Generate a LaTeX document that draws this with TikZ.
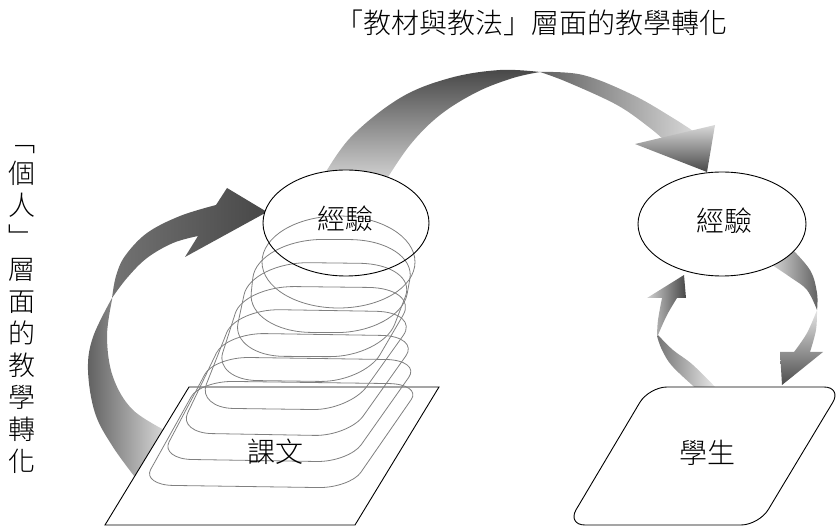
\documentclass[tikz,border=0pt]{standalone}
\usepackage{fontspec}
\IfFontExistsTF{Noto Sans CJK TC Light}
  {\newfontfamily\cjk{Noto Sans CJK TC Light}}
  {\newfontfamily\cjk{Noto Sans CJK TC}}
\usetikzlibrary{calc}
\begin{document}
\begin{tikzpicture}[x=1pt,y=-1pt,
  lbl/.style={font=\cjk\fontsize{28}{34}\selectfont, inner sep=0pt},
  vlbl/.style={font=\cjk\fontsize{27}{32}\selectfont, inner sep=0pt, align=center},
  outl/.style={draw=black, line width=0.9pt},
  loopline/.style={draw=black!50, line width=0.8pt},
  sm/.style={smooth, tension=0.6}
]
\useasboundingbox (0,0) rectangle (838,526);

% ---- left curved arrow (individual level) ----
\shade[left color=black!62, right color=black!12]
  plot[sm] coordinates {(138,481) (113,447) (95,413) (88,370) (93,337) (112,298)}
  -- plot[sm] coordinates {(112,300) (107,337) (113,377) (133,410) (170,433)} -- cycle;
\shade[left color=black!55, middle color=black!12, right color=black!72]
  plot[sm] coordinates {(112,298) (116,276) (125,256) (147,233) (180,216) (216,205)}
  -- (227,188) -- (267,212) -- (185,257) -- (198,236)
  -- plot[sm] coordinates {(198,236) (173,243) (147,258) (127,278) (112,298)} -- cycle;

% ---- top arrow (materials and methods level) ----
\shade[top color=black!72, bottom color=black!15]
  plot[sm] coordinates {(320,182) (350,138) (400,98) (450,78) (500,70) (540,72)}
  -- plot[sm] coordinates {(540,72) (513,78) (477,92) (440,115) (410,145) (383,185)} -- cycle;
\shade[left color=black!62, right color=black!15]
  plot[sm] coordinates {(540,72) (583,75) (633,95) (673,118) (696,133)}
  -- plot[sm] coordinates {(666,142) (650,128) (617,105) (567,82) (540,72)} -- cycle;
\shade[top color=black!15, bottom color=black!72]
  (715,125) -- (707,172) -- (635,144) -- cycle;

% ---- right cycle: down arrow ----
\shade[left color=black!8, right color=black!62]
  plot[sm] coordinates {(789,246) (810,270) (817,293) (817,310)}
  -- plot[sm] coordinates {(817,310) (807,290) (790,277) (763,259)} -- cycle;
\shade[top color=black!10, bottom color=black!70]
  plot[sm] coordinates {(817,310) (816,330) (810,352)}
  -- (823,352) -- (782,385) -- (780,352) -- (794,352)
  -- plot[sm] coordinates {(794,352) (807,333) (817,310)} -- cycle;

% ---- right cycle: up arrow ----
\shade[left color=black!55, right color=black!5]
  plot[sm] coordinates {(700,392) (673,367) (662,350) (657,336)}
  -- plot[sm] coordinates {(658,335) (673,350) (693,365) (720,392)} -- cycle;
\shade[left color=black!18, right color=black!72]
  plot[sm] coordinates {(657,336) (658,320) (662,298)}
  -- (647,298) -- (684,275) -- (686,298) -- (677,298)
  -- plot[sm] coordinates {(677,298) (667,315) (658,335)} -- cycle;

% ---- boxes ----
\draw[outl, fill=white] (189,387) -- (439,387) -- (355,525) -- (105,525) -- cycle;
\fill[white] (346,223) ellipse [x radius=83pt, y radius=53pt];
\draw[outl, fill=white] (722,224) ellipse [x radius=84pt, y radius=52pt];
\draw[outl, fill=white, rounded corners=18pt] (649,387) -- (842,387) -- (759,525) -- (567,525) -- cycle;

% ---- morphing loops ----
\foreach \xa/\ya/\xb/\yb/\xc/\yc/\xd/\yd/\f in {
  262/216/415/216/415/308/262/308/0.5,
  257/239/417/240/400/333/247/332/0.42,
  251/262/418/264/382/357/231/356/0.35,
  244/286/419/288/364/382/214/380/0.29,
  236/309/420/312/350/410/197/408/0.24,
  226/333/420/336/349/436/178/433/0.2,
  214/357/421/360/349/462/160/459/0.17,
  200/381/422/384/350/488/142/485/0.15}{
  \coordinate (qa) at (\xa,\ya);
  \coordinate (qb) at (\xb,\yb);
  \coordinate (qc) at (\xc,\yc);
  \coordinate (qd) at (\xd,\yd);
  \pgfmathsetmacro\g{\f*0.448}
  \draw[loopline]
    ($(qa)!\f!(qd)$) .. controls ($(qa)!\g!(qd)$) and ($(qa)!\g!(qb)$) .. ($(qa)!\f!(qb)$)
    -- ($(qb)!\f!(qa)$) .. controls ($(qb)!\g!(qa)$) and ($(qb)!\g!(qc)$) .. ($(qb)!\f!(qc)$)
    -- ($(qc)!\f!(qb)$) .. controls ($(qc)!\g!(qb)$) and ($(qc)!\g!(qd)$) .. ($(qc)!\f!(qd)$)
    -- ($(qd)!\f!(qc)$) .. controls ($(qd)!\g!(qc)$) and ($(qd)!\g!(qa)$) .. ($(qd)!\f!(qa)$)
    -- cycle;
}
\draw[outl] (346,223) ellipse [x radius=83pt, y radius=53pt];

% ---- texts ----
\node[lbl] (title) at (531,23) {「教材與教法」層面的教學轉化};
\node[lbl] (expL) at (345,219) {經驗};
\node[lbl] (expR) at (724,221) {經驗};
\node[lbl] (kewen) at (275,452) {課文};
\node[lbl] (student) at (707,453) {學生};
\node[vlbl] (vt) at (22,309) {﹁\\個\\人\\﹂\\層\\面\\的\\教\\學\\轉\\化};
\end{tikzpicture}
\end{document}
